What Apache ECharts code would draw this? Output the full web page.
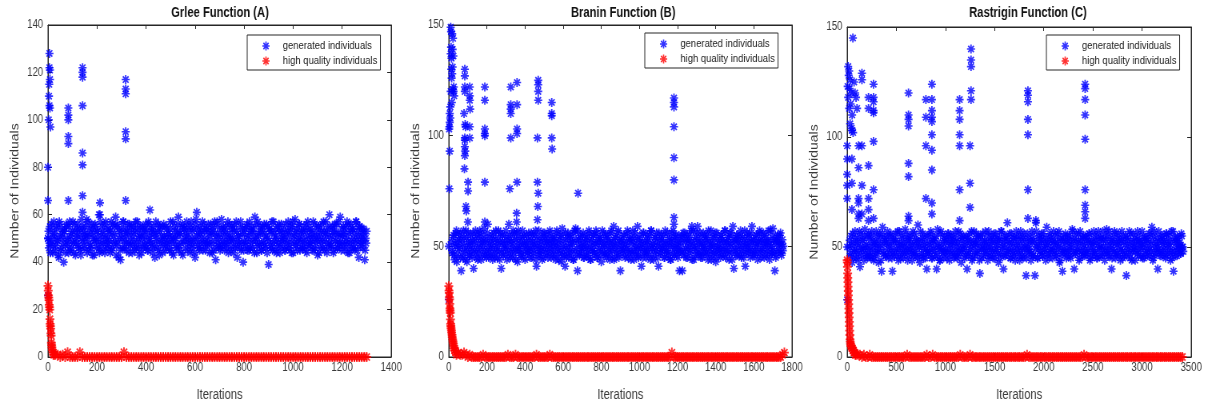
<!DOCTYPE html>
<html>
<head>
<meta charset="utf-8">
<script src="https://cdn.jsdelivr.net/npm/echarts@6/dist/echarts.min.js"></script>
<style>
  html, body { margin: 0; padding: 0; background: #fff; overflow: hidden; }
  #wrap { width: 1208px; height: 407px; overflow: hidden; }
  /* the source figure is squeezed horizontally, so draw wider and squeeze */
  #chart { width: 1510px; height: 407px; transform: scaleX(0.8); transform-origin: 0 0; }
</style>
</head>
<body>
<div id="wrap"><div id="chart"></div></div>
<script>
// ---- data ----
const panelTitles = ['Grlee Function (A)', 'Branin Function (B)', 'Rastrigin Function (C)'];
const seriesNames = ['generated individuals', 'high quality individuals'];

// generated individuals, main band: two interleaved lists per panel
const stepA = 4, startA = 0, startA2 = 2;
const bandA = [
  50,46,55,48,53,44,57,51,47,54,49,42,56,45,52,50,40,53,47,55,
  49,44,57,51,46,53,48,56,43,50,54,47,52,45,58,49,53,46,55,51,
  44,57,48,52,46,54,50,43,56,49,53,47,60,45,51,55,48,52,44,57,
  50,46,54,49,53,45,56,48,52,59,47,55,42,50,41,54,46,57,49,52,
  45,53,48,56,47,51,44,55,49,53,46,57,50,43,52,48,55,46,51,54,
  47,53,45,56,50,48,54,46,52,42,57,49,53,45,55,48,51,44,56,50,
  47,54,49,52,45,57,48,51,43,55,50,46,53,59,47,52,44,56,49,54,
  46,51,55,48,53,44,57,50,47,54,42,58,49,52,46,55,48,53,45,56,
  50,47,54,49,52,44,56,48,53,45,57,41,51,55,47,52,46,58,49,53,
  45,55,48,51,44,56,50,47,54,49,53,46,57,42,51,48,55,45,52,40,
  49,54,47,56,50,45,53,48,55,46,52,59,49,44,57,51,47,53,45,55,
  48,52,46,56,50,39,54,47,53,45,57,49,51,44,55,48,53,46,56,50,
  47,54,45,52,49,57,46,53,48,55,44,51,58,47,53,49,56,45,52,50,
  46,55,48,53,44,57,50,47,54,49,52,45,56,48,51,43,55,50,46,53,
  49,57,45,52,48,54,46,60,50,47,55,44,53,49,56,46,52,48,59,45,
  51,55,47,53,49,57,44,52,48,56,46,54,50,45,57,49,53,42,55,48,
  52,46,54,41,50,53
];
const bandA2 = [
  53,48,44,56,50,47,52,45,55,49,43,57,51,46,54,48,53,44,56,50,
  47,55,45,52,49,57,44,53,48,51,56,46,54,43,50,55,47,52,49,58,
  51,45,54,47,56,43,52,49,55,46,53,50,44,57,48,53,45,56,50,47,
  54,48,52,44,57,46,51,55,49,43,56,48,53,45,52,50,57,46,54,48,
  51,56,44,53,49,55,47,52,45,57,48,54,46,51,55,44,50,53,47,56,
  49,45,57,51,48,53,44,55,47,52,50,46,56,43,53,49,55,47,51,45,
  55,48,52,46,54,50,44,57,49,53,47,51,56,45,52,48,55,43,54,49,
  52,57,45,50,48,55,46,53,49,44,56,51,47,54,45,52,50,57,48,53,
  45,54,48,56,47,51,53,44,55,49,52,46,57,48,50,45,54,47,55,51,
  48,53,46,57,49,52,45,55,50,44,56,47,53,49,51,46,57,48,54,45,
  52,48,55,45,51,57,46,53,49,54,44,50,56,47,52,48,55,45,53,49,
  56,47,51,44,55,49,53,46,57,48,52,45,54,50,47,56,44,53,49,52,
  50,45,56,48,53,46,51,55,44,57,49,52,47,54,45,50,56,48,53,46,
  53,49,45,56,51,47,54,48,52,45,57,50,46,53,49,55,44,52,48,56,
  46,53,50,57,44,52,48,55,47,51,53,45,56,49,52,46,57,48,51,54,
  48,52,45,55,50,47,56,44,53,49,54,46,52,48,57,45,51,55,47,50,
  54,49,52,45,48
];
const stepB = 5, startB = 15, startB2 = 17;
const bandB = [
  52,47,55,44,50,57,46,53,49,56,39,51,45,54,48,57,43,52,50,46,
  55,48,53,40,51,57,45,49,54,47,56,44,52,50,58,46,53,48,60,45,
  54,49,51,44,56,47,53,50,45,57,48,52,40,55,46,51,49,57,44,53,
  60,47,52,55,45,50,56,48,53,43,57,49,51,46,54,48,55,44,52,50,
  47,56,49,53,45,55,48,51,57,41,50,46,54,48,52,44,56,49,53,47,
  55,45,51,57,48,53,46,50,54,44,56,49,52,47,55,43,58,50,46,41,
  53,48,56,45,51,54,47,52,44,57,58,49,39,53,46,55,50,48,56,45,
  52,49,54,46,57,50,44,53,48,55,47,51,56,45,52,49,54,43,57,48,
  51,46,55,50,47,53,44,56,49,52,59,45,54,48,51,57,46,39,53,50,
  48,55,45,52,49,56,47,53,44,51,57,48,54,46,50,59,45,53,49,41,
  52,56,47,50,45,55,48,53,46,57,49,51,44,54,48,56,50,41,53,47,
  55,49,52,45,57,48,51,46,54,50,44,56,47,53,49,55,46,52,48,39,
  50,54,39,56,48,52,45,55,49,53,47,57,59,50,44,53,48,56,59,46,
  51,54,48,45,56,50,53,47,55,44,52,49,57,46,51,54,48,43,56,50,
  47,53,45,55,49,52,46,57,48,51,54,44,56,50,47,59,40,53,48,55,
  46,52,50,57,45,54,48,53,41,51,56,47,55,49,52,59,46,53,48,50,
  55,44,52,57,47,53,49,56,45,51,54,48,52,46,57,50,47,58,53,39,
  45,52,55,48,51,56,46,53,50
];
const bandB2 = [
  48,54,46,51,56,43,52,49,55,45,53,47,57,50,44,54,48,56,46,52,
  50,45,56,48,53,47,55,44,51,57,49,53,46,55,48,52,45,56,50,47,
  52,46,55,49,53,45,57,48,51,54,44,56,47,52,49,55,46,53,50,48,
  55,45,52,49,57,47,53,44,56,50,48,54,46,52,57,45,51,49,55,47,
  53,48,45,56,50,52,47,55,44,53,49,57,46,51,48,54,45,56,50,52,
  47,53,49,56,45,51,54,48,52,46,57,50,44,53,48,55,46,52,49,56,
  45,54,50,47,55,49,52,44,56,48,53,46,57,51,47,54,49,52,45,55,
  50,46,53,48,56,44,52,49,55,47,51,57,45,53,48,54,46,52,50,56,
  47,53,45,55,49,52,46,57,48,51,44,54,50,47,56,45,53,49,52,48,
  55,46,51,49,57,45,53,48,54,47,52,44,56,50,48,53,46,55,49,51,
  45,56,48,53,47,52,50,55,44,57,49,51,46,54,48,52,45,56,50,47,
  53,49,55,45,51,48,56,47,53,44,52,50,57,46,54,49,51,45,55,48,
  52,47,54,46,56,49,53,45,51,55,48,52,44,57,50,46,54,49,52,47,
  56,45,52,50,47,55,49,53,46,57,48,51,44,54,50,47,56,45,53,49,
  51,48,55,46,53,49,57,45,52,48,54,47,51,56,44,53,49,52,46,55,
  49,53,46,55,48,51,45,57,50,47,54,49,52,45,56,48,53,46,51,55,
  47,52,49,56,45,53,48,51,55,46,52,49,57,44,53,50,47,55,48,52,
  46,54,49,52,55,47,51,48
];
const stepC = 10, startC = 20, startC2 = 25;
const bandC = [
  50,46,55,43,52,48,57,45,51,54,47,41,56,49,53,44,58,50,46,55,
  48,53,45,57,50,44,52,47,55,49,43,56,51,39,59,47,54,46,52,57,
  45,50,55,48,39,53,46,56,49,52,44,57,47,51,54,45,50,58,48,53,
  46,55,49,52,44,57,48,51,54,46,60,50,43,53,47,56,45,52,49,40,
  55,47,51,57,45,53,49,54,46,40,58,50,44,56,48,52,45,55,49,53,
  47,56,44,51,55,48,53,46,57,50,45,52,48,56,43,54,49,51,46,55,
  40,53,47,56,50,44,52,57,46,51,54,48,55,38,50,45,56,49,53,47,
  52,44,57,50,46,55,48,53,45,56,49,51,43,54,47,57,50,40,53,46,
  55,61,48,52,45,56,50,47,54,44,57,49,51,46,55,48,53,45,56,50,
  37,47,54,49,52,44,57,46,53,37,61,50,45,55,48,51,56,46,53,49,
  44,59,51,47,55,49,53,45,57,48,52,46,56,50,43,54,47,39,53,49,
  56,45,52,48,55,46,50,58,53,40,47,56,49,52,44,57,48,54,46,51,
  55,47,53,49,56,44,52,50,46,57,48,53,45,55,49,51,54,46,57,50,
  44,53,58,48,55,46,51,40,54,49,57,45,52,47,56,50,44,53,48,55,
  46,51,37,54,49,57,45,52,48,56,50,44,53,47,55,49,52,46,57,50,
  45,54,48,53,46,56,49,51,59,44,55,47,52,50,40,57,48,53,46,55,
  49,52,45,56,47,53,50,44,57,48,39,54,46,52,55,49,51,47,56,50,
  48
];
const bandC2 = [
  53,47,51,56,45,49,54,48,52,44,57,50,46,53,49,55,47,51,45,56,
  50,46,55,48,53,45,51,57,47,52,49,54,44,56,48,51,53,46,55,49,
  52,47,56,45,51,54,48,53,46,57,49,51,45,55,48,52,47,56,50,44,
  53,49,55,47,51,46,56,48,53,45,52,50,57,46,54,49,51,45,55,48,
  47,52,49,56,45,53,48,51,55,46,52,49,44,57,50,47,54,48,52,45,
  56,49,53,47,51,55,45,52,48,54,46,57,50,47,53,49,55,45,51,48,
  54,46,52,49,57,45,53,48,51,56,47,52,44,55,49,53,46,51,57,48,
  50,55,46,53,49,52,45,56,48,51,54,47,53,45,57,49,52,46,55,50,
  47,53,49,56,45,52,48,54,46,51,55,48,53,44,57,50,46,54,49,52,
  45,56,50,48,53,47,55,46,52,49,57,45,51,54,48,53,46,56,49,51,
  54,47,52,45,56,49,53,48,51,55,46,52,49,57,44,53,50,47,55,48,
  52,46,55,49,53,45,51,57,48,54,47,52,49,56,45,53,48,51,55,46,
  49,54,47,52,56,45,53,48,51,55,47,52,45,57,50,46,54,49,53,47,
  55,48,51,46,57,49,53,45,52,48,56,47,51,54,46,53,49,57,45,52,
  48,55,46,53,50,47,56,44,52,49,54,48,51,57,46,53,49,52,45,55,
  51,47,54,49,52,46,56,48,53,45,57,50,47,54,49,52,46,55,48,51,
  53,46,56,49,51,55,47,52,45,57,48,53,50,46,54,49,52,47,55,50
];

// generated individuals away from the band: [iteration, count]
const outA = [
  [0,80],[0,66],[0,50],[0,26],[6,128],[6,122],[8,121],[8,117],[5,115],[4,110],[6,106],[8,105],[3,100],[10,97],
  [83,105],[83,102],[83,100],[83,93],[83,90],[83,66],
  [141,122],[141,120],[141,118],[141,106],[141,86],[141,81],[141,68],[141,61],
  [212,65],[212,60],
  [317,117],[317,113],[317,111],[317,95],[317,92],[317,66],
  [416,62],[607,61]
];
const outB = [
  [5,110],[5,106],[3,104],[2,103],[8,108],[10,149],[12,147],[12,140],[10,137],[14,135],[13,130],[15,126],
  [10,120],[8,113],[18,146],[22,144],[20,139],[24,136],[20,131],[18,128],[26,122],[22,121],[28,118],[16,115],
  [25,120],[5,93],[3,76],[0,50],[0,26],
  [84,130],[84,127],[84,122],[84,120],[80,110],[86,105],[88,104],[84,99],[84,98],[84,95],[86,93],[84,91],
  [82,85],[101,79],[101,75],[90,68],[92,66],[100,61],
  [110,122],[110,118],[110,116],[112,112],[110,104],[110,99],
  [189,122],[189,116],[189,103],[189,101],[189,100],[189,79],[189,61],
  [325,122],[325,114],[325,112],[325,110],[325,99],[320,76],
  [358,124],[358,114],[358,103],[358,101],[358,79],[356,65],[356,61],
  [469,125],[469,123],[469,120],[469,116],[465,99],[465,79],[469,74],[467,68],[465,62],
  [540,115],[540,110],[540,109],[540,99],[542,94],
  [678,74],
  [1181,117],[1181,115],[1181,113],[1181,104],[1181,90],[1181,80],[1181,63],[1181,60]
];
const outC = [
  [0,96],[0,90],[0,83],[0,78],[0,72],[0,50],[0,26],[58,145],[10,132],[20,130],[15,128],[30,126],[5,123],
  [25,122],[40,120],[10,118],[35,115],[20,113],[50,110],[30,106],[45,104],[60,102],[48,103],[48,90],[48,79],
  [48,67],[70,125],[80,120],[90,118],[100,113],[116,96],[116,86],[116,72],[116,70],[116,65],[116,63],
  [150,129],[150,126],[150,96],[150,78],[150,65],[217,118],[217,113],[217,87],[217,72],[217,67],[217,62],
  [268,124],[268,118],[268,116],[268,112],[268,111],[268,98],[268,76],[268,63],
  [624,120],[624,110],[624,108],[624,105],[624,88],[624,82],[624,64],[624,62],
  [801,117],[801,109],[801,96],[801,72],
  [862,124],[862,117],[862,112],[862,109],[862,107],[862,101],[862,94],[862,85],[862,70],[862,65],
  [1144,117],[1144,112],[1144,108],[1144,101],[1144,96],[1144,76],[1144,62],
  [1260,140],[1260,135],[1260,132],[1260,121],[1260,117],[1250,96],[1250,79],[1250,68],
  [1839,121],[1839,119],[1839,116],[1839,108],[1839,101],[1839,76],[1839,63],[1920,62],
  [2421,124],[2421,122],[2421,117],[2421,110],[2421,99],[2421,76],[2421,69],[2421,66],[2421,63]
];

// high quality individuals: the first iterations, [iteration, count]
const earlyA = [
  [0,30],[1,28],[2,26],[3,25],[4,24],[5,22],[6,21],[7,20],[8,16],[9,14],[10,13],[11,12],[12,10],
  [13,9],[14,6],[15,5],[16,4],[18,3],[20,2],[22,1],[25,1]
];
const earlyB = [
  [0,32],[1,30],[2,29],[3,27],[4,26],[5,24],[6,22],[7,21],[8,20],[9,17],[10,15],[11,14],[12,13],
  [14,12],[15,11],[17,10],[18,9],[20,8],[22,7],[24,6],[26,5],[28,4],[30,3],[33,3],[36,2]
];
const earlyC = [
  [0,44],[2,43],[3,41],[5,38],[6,36],[8,34],[9,32],[11,30],[12,28],[14,26],[15,24],[17,22],[18,20],
  [20,18],[22,16],[23,14],[25,12],[27,10],[29,8],[31,7],[34,6],[38,5],[42,5],[47,4],[52,4],[58,3],
  [64,3],[70,2],[76,2],[82,1]
];
// high quality individuals afterwards, one value every few iterations
const tailStepA = 10, tailStartA = 30;
const tailA = [
  1,1,0,1,0,2,0,0,0,0,2,0,0,0,0,0,0,0,0,0,
  0,0,0,0,0,0,0,0,2,0,0,0,0,0,0,0,0,0,0,0,
  0,0,0,0,0,0,0,0,0,0,0,0,0,0,0,0,0,0,0,0,
  0,0,0,0,0,0,0,0,0,0,0,0,0,0,0,0,0,0,0,0,
  0,0,0,0,0,0,0,0,0,0,0,0,0,0,0,0,0,0,0,0,
  0,0,0,0,0,0,0,0,0,0,0,0,0,0,0,0,0,0,0,0,
  0,0,0,0,0,0,0,0
];
const tailStepB = 10, tailStartB = 40;
const tailB = [
  1,2,1,1,2,1,0,1,0,0,0,0,0,0,1,0,0,0,0,0,
  0,0,0,0,0,0,0,1,0,0,0,1,0,0,0,0,0,0,0,0,
  0,0,1,0,0,0,0,0,0,1,0,0,0,0,0,0,0,0,0,0,
  0,0,0,0,0,0,0,0,0,0,0,0,0,0,0,0,0,0,0,0,
  0,0,0,0,0,0,0,0,0,0,0,0,0,0,0,0,0,0,0,0,
  0,0,0,0,0,0,0,0,0,0,0,0,0,2,0,0,0,0,0,0,
  0,0,0,0,0,0,0,0,0,0,0,0,0,0,0,0,0,0,0,0,
  0,0,0,0,0,0,0,0,0,0,0,0,0,0,0,0,0,0,0,0,
  0,0,0,0,0,0,0,0,0,0,0,1,2
];
const tailStepC = 20, tailStartC = 90;
const tailC = [
  1,1,1,0,1,0,0,1,0,0,0,0,0,0,0,0,0,0,0,0,
  0,0,0,0,0,0,1,0,0,0,0,0,0,0,0,0,1,0,0,1,
  0,0,0,0,0,0,0,0,0,0,0,0,0,1,0,0,0,0,1,0,
  0,0,0,0,0,0,0,0,0,0,0,0,0,0,0,0,0,0,0,0,
  0,0,0,0,0,0,0,1,0,0,0,0,0,0,0,0,0,0,0,0,
  0,0,0,0,0,0,0,0,0,0,0,0,0,0,0,0,1,0,0,0,
  0,0,0,0,0,0,0,0,0,0,0,0,0,0,0,0,0,0,0,0,
  0,0,0,0,0,0,0,0,0,0,0,0,0,0,0,0,0,0,0,0,
  0,0,0,0,0,0,0
];

// axis ranges
const xMax = [1400, 1800, 3500];
const xInterval = [200, 200, 500];
const yMax = [140, 150, 150];
const yInterval = [20, 50, 50];

// ---- layout (in the un-squeezed 1510px wide space) ----
const grids = [
  { left: 60, top: 25, width: 429, height: 332 },
  { left: 561, top: 25, width: 429, height: 332 },
  { left: 1059, top: 27, width: 430, height: 331 }
];
const titleX = [275, 779, 1285];
const legendPos = [[309, 35], [806, 33], [1308, 35]];

const font = '"Liberation Sans", Arial';

// MATLAB style '*' marker, bold spokes
const ASTERISK = 'path://M8.2 0L11.8 0L11.8 20L8.2 20Z M0 8.2L20 8.2L20 11.8L0 11.8Z ' +
  'M4.2 1.66L18.34 15.8L15.8 18.34L1.66 4.2Z M15.8 1.66L18.34 4.2L4.2 18.34L1.66 15.8Z';

const lineColor = '#262626';
const textColor = '#3a3a3a';

let blueData = [
  bandA.map((v, i) => [startA + i * stepA, v])
    .concat(bandA2.map((v, i) => [startA2 + i * stepA, v]), outA),
  bandB.map((v, i) => [startB + i * stepB, v])
    .concat(bandB2.map((v, i) => [startB2 + i * stepB, v]), outB),
  bandC.map((v, i) => [startC + i * stepC, v])
    .concat(bandC2.map((v, i) => [startC2 + i * stepC, v]), outC)
];
let redData = [
  earlyA.concat(tailA.map((v, i) => [tailStartA + i * tailStepA, v])),
  earlyB.concat(tailB.map((v, i) => [tailStartB + i * tailStepB, v])),
  earlyC.concat(tailC.map((v, i) => [tailStartC + i * tailStepC, v]))
];

let xAxes = [], yAxes = [], series = [], titles = [], legends = [];
for (let p = 0; p < 3; p++) {
  xAxes.push({
    gridIndex: p, type: 'value', min: 0, max: xMax[p], interval: xInterval[p],
    name: 'Iterations', nameLocation: 'middle', nameGap: 31,
    nameTextStyle: { fontFamily: font, fontSize: 14, color: textColor },
    axisLine: { onZero: false, lineStyle: { color: lineColor } },
    axisTick: { inside: true, length: 4, lineStyle: { color: lineColor } },
    axisLabel: { color: textColor, fontFamily: font, fontSize: 12, margin: 5, formatter: v => String(v) },
    splitLine: { show: false }
  });
  xAxes.push({
    gridIndex: p, type: 'value', position: 'top', min: 0, max: xMax[p], interval: xInterval[p],
    axisLine: { onZero: false, lineStyle: { color: lineColor } },
    axisTick: { inside: true, length: 4, lineStyle: { color: lineColor } },
    axisLabel: { show: false }, splitLine: { show: false }
  });
  yAxes.push({
    gridIndex: p, type: 'value', min: 0, max: yMax[p], interval: yInterval[p],
    name: 'Number of Individuals', nameLocation: 'middle', nameGap: 34,
    nameTextStyle: { fontFamily: font, fontSize: 14, color: textColor },
    axisLine: { onZero: false, lineStyle: { color: lineColor } },
    axisTick: { inside: true, length: 5, lineStyle: { color: lineColor } },
    axisLabel: { color: textColor, fontFamily: font, fontSize: 12, margin: 6 },
    splitLine: { show: false }
  });
  yAxes.push({
    gridIndex: p, type: 'value', position: 'right', min: 0, max: yMax[p], interval: yInterval[p],
    axisLine: { onZero: false, lineStyle: { color: lineColor } },
    axisTick: { inside: true, length: 5, lineStyle: { color: lineColor } },
    axisLabel: { show: false }, splitLine: { show: false }
  });
  series.push({
    name: seriesNames[0], type: 'scatter', xAxisIndex: 2 * p, yAxisIndex: 2 * p,
    symbol: ASTERISK, symbolSize: [10, 9], itemStyle: { color: '#0000ff' },
    data: blueData[p], silent: true
  });
  series.push({
    name: seriesNames[1], type: 'scatter', xAxisIndex: 2 * p, yAxisIndex: 2 * p,
    symbol: ASTERISK, symbolSize: [11, 10], itemStyle: { color: '#ff0000' },
    data: redData[p], silent: true
  });
  titles.push({
    text: panelTitles[p], left: titleX[p], top: 6, textAlign: 'center', padding: 0,
    textStyle: { fontFamily: font, fontSize: 14, fontWeight: 'bold', color: '#111' }
  });
  legends.push({
    data: seriesNames, orient: 'vertical', left: legendPos[p][0], top: legendPos[p][1],
    padding: [5, 4, 3, 19], itemWidth: 10, itemHeight: 9, itemGap: 3, selectedMode: false,
    borderColor: lineColor, borderWidth: 1, borderRadius: 0, backgroundColor: '#fff',
    textStyle: { fontFamily: font, fontSize: 11.8, color: '#222', lineHeight: 12, padding: [0, 0, 0, 11] }
  });
}

let chart = echarts.init(document.getElementById('chart'), null, { renderer: 'canvas' });
chart.setOption({
  animation: false,
  backgroundColor: '#fff',
  title: titles,
  legend: legends,
  grid: grids.map(g => Object.assign({ show: true, borderColor: lineColor, borderWidth: 1, backgroundColor: '#fff' }, g)),
  xAxis: xAxes,
  yAxis: yAxes,
  series: series
});
</script>
</body>
</html>
